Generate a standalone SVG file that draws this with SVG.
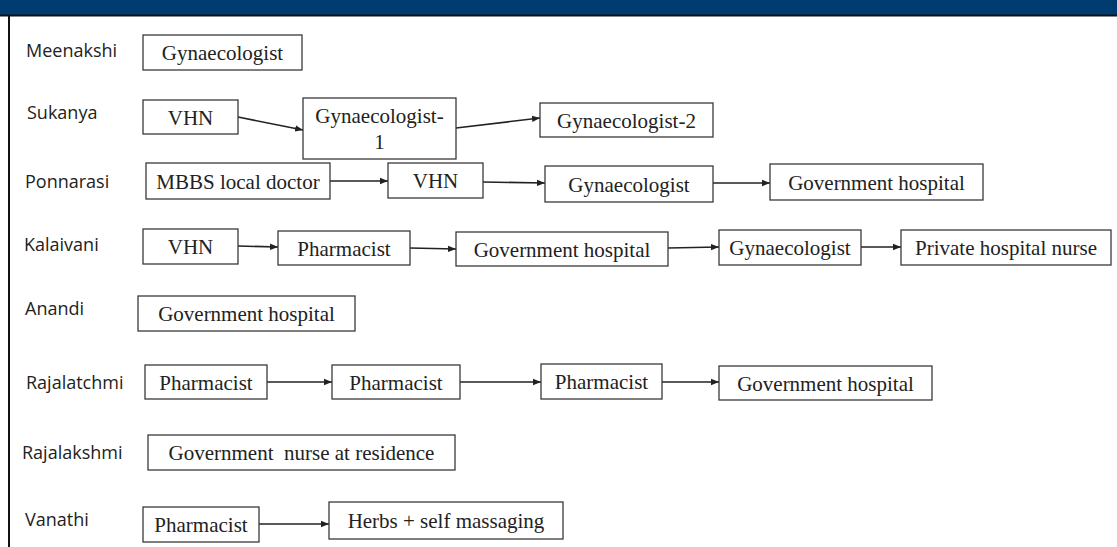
<svg xmlns="http://www.w3.org/2000/svg" width="1117" height="547" viewBox="0 0 1117 547">
<style>
.bx rect{fill:#fff;stroke:#3a3a3a;stroke-width:1.3}
.bx text{font-family:"Liberation Serif","Times New Roman",serif;font-size:21px;fill:#222;text-anchor:middle;white-space:pre}
.lbl{font-family:"Open Sans","Noto Sans",sans-serif;font-size:18px;fill:#222}
#connectors line{stroke:#222;stroke-width:1.6;marker-end:url(#ah)}
</style>
<defs>
<marker id="ah" viewBox="0 0 10 10" refX="10" refY="5" markerWidth="5" markerHeight="5" orient="auto" markerUnits="strokeWidth">
<path d="M0,1 L10,5 L0,9 z" fill="#222"/>
</marker>
</defs>
<rect x="0" y="0" width="1117" height="547" fill="#fff"/>
<rect x="0" y="0" width="1117" height="15" fill="#003c70"/>
<line x1="0" y1="15.5" x2="1117" y2="15.5" stroke="#111" stroke-width="2"/>
<line x1="9" y1="16" x2="9" y2="547" stroke="#111" stroke-width="2"/>

<g id="labels">
<text class="lbl" x="26" y="57">Meenakshi</text>
<text class="lbl" x="27" y="119">Sukanya</text>
<text class="lbl" x="25" y="188">Ponnarasi</text>
<text class="lbl" x="24" y="251">Kalaivani</text>
<text class="lbl" x="25" y="315">Anandi</text>
<text class="lbl" x="26" y="389">Rajalatchmi</text>
<text class="lbl" x="22" y="459">Rajalakshmi</text>
<text class="lbl" x="25" y="526">Vanathi</text>
</g>

<g id="connectors">
<line x1="238" y1="117" x2="303" y2="130"/>
<line x1="456" y1="128" x2="540" y2="118"/>
<line x1="330" y1="181" x2="388" y2="181"/>
<line x1="483" y1="182" x2="545" y2="183"/>
<line x1="713" y1="183" x2="770" y2="183"/>
<line x1="238" y1="246" x2="278" y2="247"/>
<line x1="410" y1="248" x2="456" y2="249"/>
<line x1="668" y1="248" x2="719" y2="247"/>
<line x1="861" y1="247" x2="901" y2="247"/>
<line x1="267" y1="382" x2="332" y2="382"/>
<line x1="460" y1="382" x2="541" y2="382"/>
<line x1="662" y1="382" x2="719" y2="382"/>
<line x1="259" y1="524" x2="329" y2="524"/>
</g>

<g id="n-meenakshi-1" class="bx"><rect x="143" y="35" width="159" height="35"/><text x="222.5" y="60">Gynaecologist</text></g>

<g id="n-sukanya-1" class="bx"><rect x="143" y="100" width="95" height="34"/><text x="190.5" y="124.5">VHN</text></g>
<g id="n-sukanya-2" class="bx"><rect x="303" y="98" width="153" height="61"/><text x="379.5" y="123">Gynaecologist-</text><text x="379.5" y="149">1</text></g>
<g id="n-sukanya-3" class="bx"><rect x="540" y="103" width="173" height="34"/><text x="626.5" y="127.5">Gynaecologist-2</text></g>

<g id="n-ponnarasi-1" class="bx"><rect x="146" y="163" width="184" height="36"/><text x="238" y="188.5">MBBS local doctor</text></g>
<g id="n-ponnarasi-2" class="bx"><rect x="388" y="163" width="95" height="35"/><text x="435.5" y="188">VHN</text></g>
<g id="n-ponnarasi-3" class="bx"><rect x="545" y="166" width="168" height="36"/><text x="629" y="191.5">Gynaecologist</text></g>
<g id="n-ponnarasi-4" class="bx"><rect x="770" y="164" width="213" height="36"/><text x="876.5" y="189.5">Government hospital</text></g>

<g id="n-kalaivani-1" class="bx"><rect x="143" y="229" width="95" height="35"/><text x="190.5" y="254">VHN</text></g>
<g id="n-kalaivani-2" class="bx"><rect x="278" y="231" width="132" height="34"/><text x="344" y="255.5">Pharmacist</text></g>
<g id="n-kalaivani-3" class="bx"><rect x="456" y="232" width="212" height="34"/><text x="562" y="256.5">Government hospital</text></g>
<g id="n-kalaivani-4" class="bx"><rect x="719" y="230" width="142" height="35"/><text x="790" y="255">Gynaecologist</text></g>
<g id="n-kalaivani-5" class="bx"><rect x="901" y="230" width="210" height="35"/><text x="1006" y="255">Private hospital nurse</text></g>

<g id="n-anandi-1" class="bx"><rect x="138" y="296" width="217" height="35"/><text x="246.5" y="321">Government hospital</text></g>

<g id="n-rajalatchmi-1" class="bx"><rect x="145" y="365" width="122" height="34"/><text x="206" y="389.5">Pharmacist</text></g>
<g id="n-rajalatchmi-2" class="bx"><rect x="332" y="365" width="128" height="34"/><text x="396" y="389.5">Pharmacist</text></g>
<g id="n-rajalatchmi-3" class="bx"><rect x="541" y="364" width="121" height="35"/><text x="601.5" y="389">Pharmacist</text></g>
<g id="n-rajalatchmi-4" class="bx"><rect x="719" y="366" width="213" height="34"/><text x="825.5" y="390.5">Government hospital</text></g>

<g id="n-rajalakshmi-1" class="bx"><rect x="148" y="435" width="307" height="35"/><text x="301.5" y="460">Government  nurse at residence</text></g>

<g id="n-vanathi-1" class="bx"><rect x="143" y="507" width="116" height="35"/><text x="201" y="532">Pharmacist</text></g>
<g id="n-vanathi-2" class="bx"><rect x="329" y="502" width="234" height="37"/><text x="446" y="528">Herbs + self massaging</text></g>
</svg>
